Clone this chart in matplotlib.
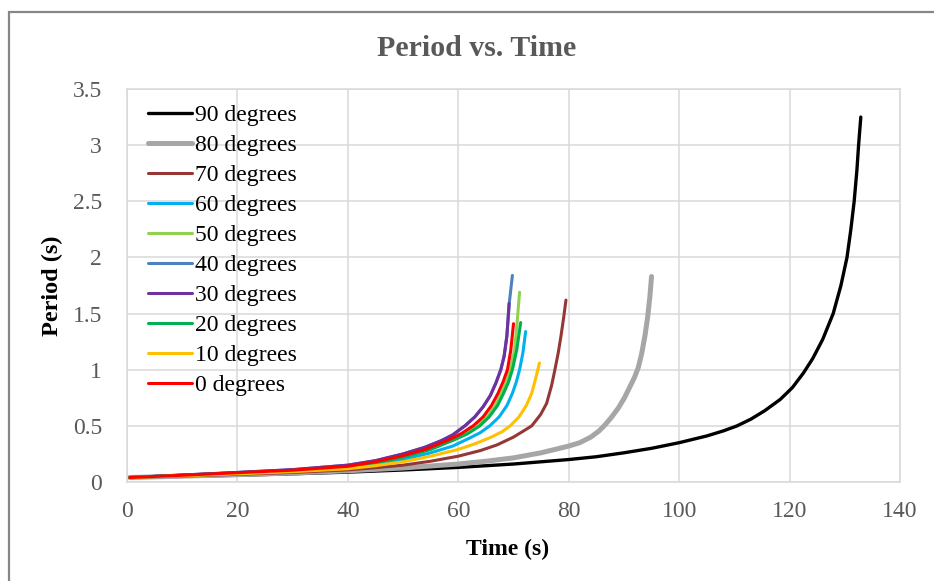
import matplotlib
matplotlib.use("Agg")
import matplotlib.pyplot as plt
from matplotlib.patches import Rectangle

# ---- data ----
labels = ["90 degrees", "80 degrees", "70 degrees", "60 degrees", "50 degrees",
          "40 degrees", "30 degrees", "20 degrees", "10 degrees", "0 degrees"]
colors = ["#000000", "#a6a6a6", "#953735", "#00b0f0", "#92d050",
          "#4f81bd", "#7030a0", "#00b050", "#ffc000", "#ff0000"]

t90 = [0.5, 10, 20, 30, 40, 50, 60, 70, 80, 85, 90, 95, 100, 105, 108, 110.5, 113, 115.5,
       118.3, 120.5, 122.5, 124.2, 126, 127.9, 129.3, 130.4, 131.1, 131.7, 132.2, 132.5, 132.9]
p90 = [0.04, 0.05, 0.06, 0.073, 0.088, 0.107, 0.13, 0.16, 0.2, 0.225, 0.26, 0.3, 0.35, 0.41,
       0.455, 0.5, 0.56, 0.635, 0.735, 0.84, 0.97, 1.1, 1.27, 1.5, 1.75, 2.0, 2.25, 2.5, 2.78,
       3.0, 3.25]

t80 = [0.5, 10, 20, 30, 40, 50, 60, 65, 70, 75, 80, 82, 84, 85.5, 86.6, 87.8, 89, 90.1,
       91.1, 91.9, 92.6, 93.2, 93.8, 94.3, 94.7, 95.0]
p80 = [0.04, 0.052, 0.065, 0.08, 0.10, 0.125, 0.16, 0.185, 0.215, 0.26, 0.32, 0.35, 0.40,
       0.455, 0.51, 0.58, 0.66, 0.75, 0.85, 0.93, 1.02, 1.14, 1.3, 1.47, 1.65, 1.83]

t70 = [0.5, 10, 20, 30, 40, 45, 50, 55, 60, 64, 67, 70, 72, 73.3, 74.9, 76.0, 76.9, 77.5,
       78.1, 78.6, 79.1, 79.5]
p70 = [0.04, 0.054, 0.068, 0.085, 0.108, 0.127, 0.15, 0.185, 0.23, 0.28, 0.33, 0.4, 0.46,
       0.5, 0.6, 0.7, 0.86, 1.0, 1.15, 1.3, 1.47, 1.62]

t60 = [0.5, 10, 20, 30, 40, 45, 50, 55, 59, 62, 64, 65.7, 67.4, 68.8, 69.8, 70.5, 71.1,
       71.7, 72.2]
p60 = [0.04, 0.058, 0.077, 0.098, 0.128, 0.16, 0.2, 0.26, 0.32, 0.39, 0.44, 0.5, 0.58,
       0.68, 0.79, 0.89, 1.0, 1.15, 1.34]

t50 = [0.5, 10, 20, 30, 40, 45, 50, 55, 59, 61.5, 63.5, 65.2, 66.7, 67.8, 68.7, 69.4,
       70.2, 70.6, 71.1]
p50 = [0.04, 0.06, 0.08, 0.103, 0.136, 0.172, 0.225, 0.295, 0.38, 0.44, 0.5, 0.58, 0.68,
       0.79, 0.89, 1.0, 1.18, 1.39, 1.69]

t40 = [0.5, 10, 20, 30, 40, 45, 50, 54, 57, 59, 61.2, 63, 64.5, 65.8, 66.8, 67.7, 68.3,
       68.8, 69.25, 69.8]
p40 = [0.04, 0.062, 0.085, 0.11, 0.15, 0.19, 0.25, 0.31, 0.37, 0.42, 0.5, 0.58, 0.67, 0.77,
       0.88, 1.0, 1.12, 1.3, 1.6, 1.84]

t30 = [0.5, 10, 20, 30, 40, 45, 50, 54, 57, 59, 61.2, 63, 64.5, 65.8, 66.8, 67.7, 68.3,
       68.8, 69.2]
p30 = [0.04, 0.062, 0.085, 0.11, 0.15, 0.19, 0.25, 0.31, 0.37, 0.42, 0.5, 0.58, 0.67, 0.77,
       0.88, 1.0, 1.12, 1.3, 1.59]

t20 = [0.5, 10, 20, 30, 40, 45, 50, 55, 59, 61.7, 63.9, 65.6, 67.1, 68.2, 69.1, 69.8,
       70.6, 71.3]
p20 = [0.04, 0.06, 0.08, 0.103, 0.135, 0.17, 0.22, 0.29, 0.37, 0.43, 0.5, 0.58, 0.68, 0.79,
       0.89, 1.0, 1.18, 1.42]

t10 = [0.5, 10, 20, 30, 40, 45, 50, 55, 60, 63, 66, 68, 69.4, 71, 72.3, 73.3, 74.0, 74.7]
p10 = [0.04, 0.056, 0.073, 0.092, 0.118, 0.145, 0.18, 0.23, 0.29, 0.34, 0.4, 0.45, 0.5,
       0.58, 0.68, 0.79, 0.92, 1.06]

t0 = [0.5, 10, 20, 30, 40, 45, 50, 54, 58, 60.5, 62.7, 64.5, 66, 67.2, 68.1, 68.9, 69.5, 70.0]
p0 = [0.04, 0.06, 0.083, 0.105, 0.14, 0.18, 0.235, 0.29, 0.37, 0.43, 0.5, 0.58, 0.68, 0.79,
      0.89, 1.0, 1.17, 1.41]

series_t = [t90, t80, t70, t60, t50, t40, t30, t20, t10, t0]
series_p = [p90, p80, p70, p60, p50, p40, p30, p20, p10, p0]
widths = [2.4, 3.6, 2.2, 2.2, 2.2, 2.2, 2.2, 2.2, 2.2, 2.2]

xticks = [0, 20, 40, 60, 80, 100, 120, 140]
yticks = [0, 0.5, 1, 1.5, 2, 2.5, 3, 3.5]
ytick_labels = ["0", "0.5", "1", "1.5", "2", "2.5", "3", "3.5"]

# ---- figure ----
plt.rcParams['font.family'] = ['Liberation Serif', 'DejaVu Serif']
W, H = 934, 581
fig = plt.figure(figsize=(W / 100, H / 100), dpi=100)

# outer chart border (left and top visible)
fig.patches.append(Rectangle((8.5 / W, -0.2), 1.3, 1.2 - 11.5 / H,
                             transform=fig.transFigure, fill=False,
                             edgecolor="#878787", linewidth=1.6))

ax = fig.add_axes([127 / W, 1 - 482 / H, (900 - 127) / W, (482 - 89) / H])

for t, p, c, lw, lab in zip(series_t, series_p, colors, widths, labels):
    ax.plot(t, p, color=c, lw=lw, label=lab, solid_capstyle='round',
            solid_joinstyle='round')

ax.set_xlim(0, 140)
ax.set_ylim(0, 3.5)
ax.set_xticks(xticks)
ax.set_yticks(yticks)
ax.set_yticklabels(ytick_labels)
ax.grid(True, color="#d9d9d9", linewidth=1.1)
ax.set_axisbelow(True)
for s in ax.spines.values():
    s.set_color("#d9d9d9")
    s.set_linewidth(1.1)
ax.tick_params(axis='both', length=0, labelsize=17, labelcolor="#595959")
ax.tick_params(axis='y', pad=18)
ax.tick_params(axis='x', pad=14)

leg = ax.legend(loc='upper left', frameon=False, fontsize=17,
                handlelength=1.85, handletextpad=0.12, labelspacing=0.36,
                borderaxespad=0.0, bbox_to_anchor=(12 / 773, 1 - 6 / 393))
for txt in leg.get_texts():
    txt.set_color("#000000")

fig.text(477 / W, 1 - 48 / H, "Period vs. Time", ha='center', va='center',
         fontsize=21.5, fontweight='bold', color="#595959")
fig.text(508 / W, 1 - 549 / H, "Time (s)", ha='center', va='center',
         fontsize=17, fontweight='bold', color="#000000")
fig.text(52 / W, 1 - 286 / H, "Period (s)", ha='center', va='center', rotation=90,
         fontsize=17.5, fontweight='bold', color="#000000")

fig.savefig("out.png", dpi=100, facecolor="white")
